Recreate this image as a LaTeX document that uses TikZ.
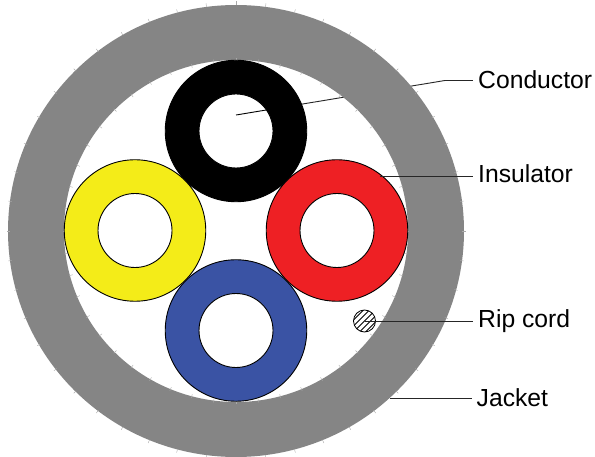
\documentclass[tikz,border=0pt]{standalone}
\usepackage{fontspec}
\usetikzlibrary{calc}
\setmainfont{Liberation Sans}
\definecolor{jacketgrey}{RGB}{133,133,133}
\definecolor{ringyellow}{RGB}{244,236,24}
\definecolor{ringred}{RGB}{238,32,36}
\definecolor{ringblue}{RGB}{58,83,164}
\tikzset{
  ring/.style={circle,draw=black,line width=0.9pt,minimum size=141.5pt,inner sep=0pt},
  bore/.style={circle,draw=black,line width=0.9pt,fill=white,minimum size=74pt,inner sep=0pt},
  lead/.style={line width=0.9pt,draw=black!85},
  caption/.style={anchor=base west,inner sep=0pt,font=\fontsize{24.7pt}{24.7pt}\selectfont,text=black},
  tick/.style={draw=jacketgrey!70,line width=0.4pt}
}
\begin{document}
\begin{tikzpicture}[x=1pt,y=-1pt]
\useasboundingbox (0,0) rectangle (595,457);
\fill[white] (0,0) rectangle (595,457);
\coordinate (c) at (236,231);
\node[caption] (tcond) at (478,89) {Conductor};
\node[caption] (tins) at (478,183) {Insulator};
\node[caption] (trip) at (478,328) {Rip cord};
\node[caption] (tjack) at (476.5,406.5) {Jacket};
% conductor leader runs beneath the jacket
\coordinate (condstart) at (236,115);
\coordinate (condelbow) at (445,80.5);
\draw[lead] (condstart) -- (condelbow);
\draw[lead,shorten >=5pt] (condelbow) -- (tcond.west |- condelbow);
% jacket
\fill[jacketgrey,even odd rule] (c) ellipse[x radius=228,y radius=226] (c) ellipse[x radius=172,y radius=171];
\foreach \a in {0,7.5,...,352.5}{
  \draw[tick] ($(c)+(\a:226)$) -- ($(c)+(\a:229.5)$);
  \draw[tick] ($(c)+(\a:173)$) -- ($(c)+(\a:169)$);
}
% cores
\node[ring,fill=black] (black) at (236,131) {};
\node[ring,fill=ringyellow] (yellow) at (135,230.5) {};
\node[ring,fill=ringred] (red) at (337,230.5) {};
\node[ring,fill=ringblue] (blue) at (236,330.5) {};
\node[bore] (hblack) at (black) {};
\node[bore] (hyellow) at (yellow) {};
\node[bore] (hred) at (red) {};
\node[bore] (hblue) at (blue) {};
\draw[line width=0.9pt] (condstart) -- ($(condstart)!0.21!(condelbow)$);
% rip cord
\node[circle,draw=black,line width=0.8pt,fill=white,minimum size=22pt,inner sep=0pt,
  path picture={\foreach \d in {-18,-12,...,18}{
    \draw[line width=0.8pt] ($(path picture bounding box.center)+(\d-14,14)$) -- ++(28,-28);}}] (cord) at (364.5,321) {};
% leaders
\coordinate (insstart) at (380,176);
\coordinate (jackstart) at (390,398);
\draw[lead,shorten >=5pt] (insstart) -- (insstart -| tins.west);
\draw[lead,shorten >=5pt] (cord.center) -- (cord.center -| trip.west);
\draw[lead,shorten >=5pt] (jackstart) -- (jackstart -| tjack.west);
\end{tikzpicture}
\end{document}
